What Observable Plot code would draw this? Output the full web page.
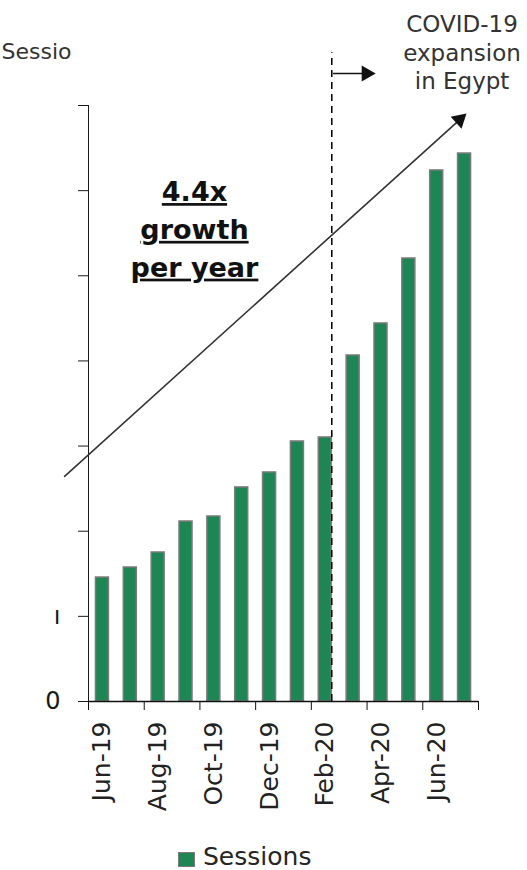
<!DOCTYPE html>
<html><head><meta charset="utf-8">
<script src="https://cdn.jsdelivr.net/npm/d3@7"></script>
<script src="https://cdn.jsdelivr.net/npm/@observablehq/plot@0.6"></script>
<style>
body{margin:0;background:#fff;font-family:"DejaVu Sans",sans-serif;}
#wrap{position:relative;width:527px;height:870px;overflow:hidden;background:#fff;}
#legend{position:absolute;left:178px;top:845px;display:flex;align-items:flex-start;font-size:25px;line-height:24px;color:#262626;white-space:nowrap;}
#legend .sw{width:17px;height:15px;background:#1e8654;box-shadow:inset 0 0 0 1px #7b7b7b;margin-top:7px;margin-right:8px;flex:none;}
</style></head><body>
<div id="wrap"><div id="chart"></div><div id="legend"><span class="sw"></span><span id="legtext"></span></div></div>
<script>
// ---- data ----
const months = ["Jun-19","Jul-19","Aug-19","Sep-19","Oct-19","Nov-19","Dec-19","Jan-20","Feb-20","Mar-20","Apr-20","May-20","Jun-20","Jul-20"];
const sessions = [1.456,1.574,1.750,2.114,2.173,2.514,2.690,3.054,3.101,4.064,4.440,5.203,6.237,6.436];
const labeledMonths = ["Jun-19","Aug-19","Oct-19","Dec-19","Feb-20","Apr-20","Jun-20"];
const boundaryMonths = ["Jun-19","Aug-19","Oct-19","Dec-19","Feb-20","Apr-20","Jun-20"];
const lastMonth = ["Jul-20"];
const yTicks = [0,1,2,3,4,5,6,7];
const yTickLabels = ["0","ı","","","","","",""];
const yTitle = "Sessio";
const seriesName = "Sessions";
const growthText = "4.4x\ngrowth\nper year";
const covidText = "COVID-19\nexpansion\nin Egypt";
const covidMonth = ["Feb-20"];
const trendArrow = [{from:"Jun-19", to:"Jul-20", v1:3.046, v2:6.885}];
const covidArrow = [{from:"Feb-20", to:"Mar-20", v:7.376}];

// ---- chart ----
const W = 527, H = 830;
const mL = 88, mR = 49, mT = 105, mB = 129;
const step = (W - mL - mR) / months.length;
const data = months.map((m, i) => ({month: m, value: sessions[i]}));
const green = "#1e8654";

const chart = Plot.plot({
  width: W, height: H,
  marginLeft: mL, marginRight: mR, marginTop: mT, marginBottom: mB,
  style: {fontFamily: "DejaVu Sans", fontSize: "24px", color: "#1a1a1a", background: "#fff", overflow: "visible"},
  x: {domain: months, paddingInner: 0.533, paddingOuter: 0.267, round: false},
  y: {domain: [0, 7], ticks: yTicks, tickSize: 10, tickPadding: 18, line: true, label: null,
      tickFormat: d => yTickLabels[yTicks.indexOf(d)]},
  marks: [
    Plot.barY(data, {x: "month", y: "value", fill: green, stroke: "#7b7b7b", strokeWidth: 1.5}),
    Plot.ruleY([0], {stroke: "#111", strokeWidth: 1.3}),
    Plot.axisX(labeledMonths, {tickSize: 0, tickPadding: 20, tickRotate: -90, label: null, fontSize: 25, fill: "#222"}),
    Plot.axisX(boundaryMonths, {tickSize: 9, tickFormat: () => "", label: null, dx: -step / 2, stroke: "#111"}),
    Plot.axisX(lastMonth, {tickSize: 9, tickFormat: () => "", label: null, dx: step / 2, stroke: "#111"}),
    Plot.ruleX(covidMonth, {x: d => d, y1: 0, y2: 7.62, dx: 6.5, stroke: "#000", strokeWidth: 1.5, strokeDasharray: "7,5"}),
    Plot.arrow(trendArrow, {x1: "from", x2: "to", y1: "v1", y2: "v2", insetStart: -51, insetEnd: 6, headLength: 0, stroke: "#333", strokeWidth: 1.6}),
    Plot.dot(trendArrow, {x: "to", y: d => d.v2 - 0.052, dx: -5, symbol: "triangle", r: 6, rotate: 47.9, fill: "#111", stroke: null}),
    Plot.arrow(covidArrow, {x1: "from", x2: "to", y1: "v", y2: "v", insetStart: 8.3, insetEnd: -13.5, headLength: 0, stroke: "#111", strokeWidth: 1.6}),
    Plot.dot(covidArrow, {x: "to", y: "v", dx: 13.2, symbol: "triangle", r: 6, rotate: 90, fill: "#111", stroke: null}),
    Plot.text([growthText], {x: () => "Oct-19", y: () => 4.99, dx: -19.4, text: d => d, lineAnchor: "bottom", lineHeight: 1.4, fontSize: 27, fontWeight: "bold", fill: "#111", textAnchor: "middle"}),
    Plot.text([covidText], {x: () => "Jul-20", y: () => 7.188, dx: -2.5, text: d => d, lineAnchor: "bottom", lineHeight: 1.24, fontSize: 23, fill: "#333", textAnchor: "middle"}),
    Plot.text([yTitle], {frameAnchor: "top-left", text: d => d, dx: -87, dy: -47, lineAnchor: "bottom", textAnchor: "start", fontSize: 22, fill: "#333"})
  ]
});
d3.select(chart).selectAll("text").filter(function() { return this.textContent.includes("growth"); })
  .style("text-decoration", "underline");
document.getElementById("chart").appendChild(chart);
document.getElementById("legtext").textContent = seriesName;
</script>
</body></html>
